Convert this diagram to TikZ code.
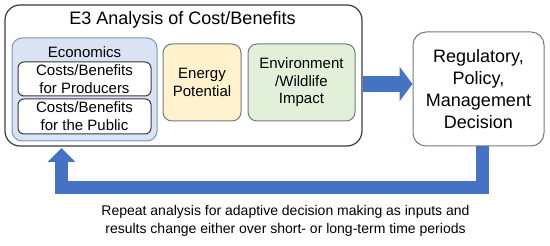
\documentclass[tikz,border=0pt]{standalone}
\usepackage{fontspec}
\setmainfont{Liberation Sans}
\usepackage{tikz}
\usepackage{xcolor}
\usetikzlibrary{arrows.meta}
\definecolor{flowblue}{HTML}{4472C4}
\definecolor{econfill}{HTML}{DAE3F3}
\definecolor{econline}{HTML}{7F93B3}
\definecolor{energyfill}{HTML}{FFF2CC}
\definecolor{envfill}{HTML}{E2F0D9}
\definecolor{boxgray}{HTML}{6F7A88}
\definecolor{darkline}{HTML}{3A3A3A}

\begin{document}
\begin{tikzpicture}[x=1pt,y=-1pt,
  box/.style={draw=#1,line width=1pt,inner sep=0pt,align=center,
    font=\fontsize{15}{18}\selectfont},
  box/.default=darkline,
  flow/.style={draw=flowblue,line join=miter}]
\useasboundingbox (0,0) rectangle (550,246);
% analysis panel
\node[box,line width=1.2pt,rounded corners=15pt,minimum width=357pt,minimum height=141pt] (outer) at (183.5,75.5) {};
\node[inner sep=0pt,font=\fontsize{18}{22}\selectfont] (title) at (182.5,20) {E3 Analysis of Cost/Benefits};
\node[box=econline,fill=econfill,rounded corners=10pt,minimum width=145pt,minimum height=103pt] (econ) at (84.5,89.5) {};
\node[inner sep=0pt,font=\fontsize{15}{18}\selectfont] (econtitle) at (84.5,52) {Economics};
\node[box,fill=white,rounded corners=6pt,minimum width=133pt,minimum height=34pt] (producers) at (84.5,79) {Costs/Benefits\\for Producers};
\node[box,fill=white,rounded corners=6pt,minimum width=133pt,minimum height=35pt] (public) at (84.5,116.5) {Costs/Benefits\\for the Public};
\node[box=boxgray,fill=energyfill,rounded corners=9pt,minimum width=78pt,minimum height=77pt] (energy) at (202,82.5) {Energy\\Potential};
\node[box=boxgray,fill=envfill,rounded corners=9pt,minimum width=107pt,minimum height=77pt,font=\fontsize{15}{17.5}\selectfont] (env) at (301.5,82.5) {Environment\\/Wildlife\\Impact};
% decision
\node[box=boxgray,rounded corners=13pt,minimum width=131pt,minimum height=114pt,font=\fontsize{18}{22}\selectfont] (decision) at (478.5,89) {Regulatory,\\Policy,\\Management\\Decision};
% arrows
\coordinate (arrowrow) at (0,84);
\draw[flow,line width=16pt,-{Triangle[length=13pt,width=34pt]}] (outer.east |- arrowrow) -- (decision.west |- arrowrow);
\coordinate (fbturn) at (482,188);
\coordinate (fbcorner) at (61.5,188);
\coordinate (fbend) at (61.5,148);
\draw[flow,line width=13pt,-{Triangle[length=14pt,width=27pt]}] (decision.south -| fbturn) -- (fbturn) -- (fbcorner) -- (fbend);
\node[inner sep=0pt,align=center,font=\fontsize{14}{18}\selectfont] (note) at (285.5,221) {Repeat analysis for adaptive decision making as inputs and\\results change either over short- or long-term time periods};
\end{tikzpicture}
\end{document}
